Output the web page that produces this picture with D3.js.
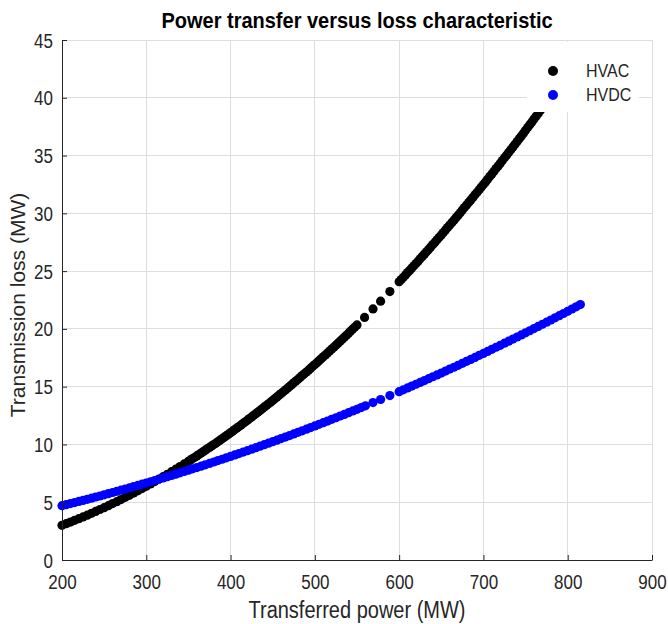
<!DOCTYPE html>
<html>
<head>
<meta charset="utf-8">
<script src="https://cdn.jsdelivr.net/npm/d3@7/dist/d3.min.js"></script>
<style>
  html, body { margin: 0; padding: 0; background: #ffffff; }
  svg { display: block; font-family: "Liberation Sans", Arial, Helvetica, sans-serif; }
</style>
</head>
<body>
<svg id="chart" width="668" height="624"></svg>
<script>
// ---------------- data ----------------
const seriesNames = ["HVAC", "HVDC"];

const powerHVAC = [200,205,210,215,220,225,230,235,240,245,250,255,260,265,270,275,280,285,290,295,
  300,305,310,315,320,325,330,335,340,345,
  350,352.5,355,357.5,360,362.5,365,367.5,370,372.5,375,377.5,380,382.5,385,387.5,390,392.5,395,397.5,
  400,402.5,405,407.5,410,412.5,415,417.5,420,422.5,425,427.5,430,432.5,435,437.5,440,442.5,445,447.5,
  450,452.5,455,457.5,460,462.5,465,467.5,470,472.5,475,477.5,480,482.5,485,487.5,490,492.5,495,497.5,
  500,502.5,505,507.5,510,512.5,515,517.5,520,522.5,525,527.5,530,532.5,535,537.5,540,542.5,545,547.5,
  550,559,569,578,589,
  600,602.5,605,607.5,610,612.5,615,617.5,620,622.5,625,627.5,630,632.5,635,637.5,640,642.5,645,647.5,
  650,652.5,655,657.5,660,662.5,665,667.5,670,672.5,675,677.5,680,682.5,685,687.5,690,692.5,695,697.5,
  700,702.5,705,707.5,710,712.5,715,717.5,720,722.5,725,727.5,730,732.5,735,737.5,740,742.5,745,747.5,
  750,752.5,755,757.5,760,762.5,765,767.5,770,772.5,775,780,785,790,795,
  800,805,810,815];
const lossHVAC = [3.00,3.14,3.28,3.43,3.58,3.73,3.88,4.04,4.20,4.37,4.53,4.70,4.88,5.05,5.23,5.42,5.60,5.79,5.99,6.18,
  6.38,6.58,6.79,7.00,7.21,7.42,7.64,7.86,8.09,8.31,
  8.54,8.66,8.78,8.89,9.01,9.13,9.25,9.37,9.50,9.62,9.74,9.86,9.99,10.11,10.24,10.37,10.50,10.63,10.76,10.89,
  11.02,11.15,11.29,11.42,11.55,11.69,11.83,11.96,12.10,12.24,12.38,12.52,12.66,12.80,12.94,13.08,13.23,13.37,13.52,13.66,
  13.81,13.96,14.11,14.26,14.41,14.56,14.71,14.86,15.02,15.17,15.33,15.48,15.64,15.80,15.96,16.11,16.27,16.43,16.60,16.76,
  16.92,17.08,17.25,17.41,17.58,17.74,17.91,18.08,18.25,18.42,18.59,18.76,18.94,19.11,19.28,19.45,19.63,19.81,19.99,20.16,
  20.34,20.99,21.73,22.40,23.23,
  24.08,24.27,24.47,24.67,24.87,25.06,25.26,25.46,25.66,25.86,26.07,26.27,26.47,26.67,26.88,27.09,27.30,27.50,27.71,27.92,
  28.13,28.34,28.56,28.77,28.98,29.19,29.41,29.62,29.84,30.06,30.28,30.50,30.72,30.94,31.16,31.38,31.60,31.82,32.05,32.27,
  32.50,32.72,32.95,33.18,33.41,33.64,33.87,34.10,34.34,34.57,34.80,35.03,35.27,35.51,35.75,35.98,36.22,36.46,36.70,36.94,
  37.18,37.42,37.67,37.91,38.16,38.40,38.65,38.89,39.14,39.39,39.64,40.14,40.65,41.16,41.67,
  42.18,42.70,43.22,43.74];

const powerHVDC = [200,205,210,215,220,225,230,235,240,245,250,255,260,265,270,275,280,285,290,295,
  300,305,310,315,320,325,330,335,340,345,350,355,360,365,370,375,380,385,390,395,
  400,405,410,415,420,425,430,435,440,445,450,455,460,465,470,475,480,485,490,495,
  500,505,510,515,520,525,530,535,540,545,550,555,560,569,578,589,
  600,605,610,615,620,625,630,635,640,645,650,655,660,665,670,675,680,685,690,695,
  700,705,710,715,720,725,730,735,740,745,750,755,760,765,770,775,780,785,790,795,
  800,805,810,815];
const lossHVDC = [4.70,4.79,4.88,4.97,5.07,5.16,5.25,5.35,5.45,5.54,5.64,5.74,5.84,5.94,6.04,6.14,6.24,6.35,6.45,6.56,
  6.66,6.77,6.88,6.99,7.10,7.21,7.32,7.43,7.54,7.66,7.77,7.89,8.00,8.12,8.24,8.36,8.48,8.60,8.72,8.84,
  8.96,9.09,9.21,9.34,9.46,9.59,9.72,9.85,9.98,10.11,10.24,10.37,10.51,10.64,10.77,10.91,11.05,11.18,11.32,11.46,
  11.60,11.74,11.88,12.02,12.17,12.31,12.46,12.60,12.75,12.90,13.04,13.19,13.34,13.62,13.89,14.23,
  14.57,14.73,14.89,15.05,15.21,15.37,15.53,15.69,15.86,16.02,16.18,16.35,16.52,16.68,16.85,17.02,17.19,17.36,17.53,17.71,
  17.88,18.05,18.23,18.41,18.58,18.76,18.94,19.12,19.30,19.48,19.66,19.84,20.03,20.21,20.40,20.58,20.77,20.96,21.14,21.33,
  21.52,21.72,21.91,22.10];

const xTicks = [200, 300, 400, 500, 600, 700, 800, 900];
const yTicks = [0, 5, 10, 15, 20, 25, 30, 35, 40, 45];

const titleText = "Power transfer versus loss characteristic";
const xLabelText = "Transferred power (MW)";
const yLabelText = "Transmission loss (MW)";

// ---------------- styles / layout ----------------
const colors = { HVAC: "#000000", HVDC: "#0000ff" };
const axisColor = "#262626";
const gridColor = "#dedede";
const plot = { left: 62, right: 652, top: 40, bottom: 560 };
const markerR = 4.6;
const stretch = 1.15;

const svg = d3.select("#chart");
svg.append("rect").attr("width", 668).attr("height", 624).attr("fill", "#ffffff");

const x = d3.scaleLinear().domain([200, 900]).range([plot.left, plot.right]);
const y = d3.scaleLinear().domain([0, 45]).range([plot.bottom, plot.top]);

// grid
const grid = svg.append("g");
grid.selectAll("line.gx").data(xTicks).join("line")
  .attr("x1", d => x(d)).attr("x2", d => x(d))
  .attr("y1", plot.top).attr("y2", plot.bottom)
  .attr("stroke", gridColor).attr("stroke-width", 1).attr("shape-rendering", "crispEdges");
grid.selectAll("line.gy").data(yTicks).join("line")
  .attr("x1", plot.left).attr("x2", plot.right)
  .attr("y1", d => y(d)).attr("y2", d => y(d))
  .attr("stroke", gridColor).attr("stroke-width", 1).attr("shape-rendering", "crispEdges");

// points
const series = [
  { name: "HVAC", p: powerHVAC, l: lossHVAC },
  { name: "HVDC", p: powerHVDC, l: lossHVDC }
];
series.forEach(s => {
  svg.append("g").selectAll("circle").data(d3.zip(s.p, s.l)).join("circle")
    .attr("cx", d => x(d[0])).attr("cy", d => y(d[1]))
    .attr("r", markerR).attr("fill", colors[s.name]);
});

// axes
const xAxis = d3.axisBottom(x).tickValues(xTicks).tickFormat(d3.format("d"))
  .tickSizeInner(-5).tickSizeOuter(0);
const gx = svg.append("g").attr("transform", `translate(0,${plot.bottom})`).call(xAxis);
gx.select(".domain").attr("stroke", axisColor);
gx.selectAll(".tick line").attr("stroke", axisColor);
gx.selectAll(".tick text")
  .attr("y", 0).attr("dy", 0)
  .attr("transform", `translate(0,29) scale(1,${stretch})`)
  .attr("fill", axisColor).attr("font-size", 17).attr("font-family", "Liberation Sans, Arial, sans-serif");

const yAxis = d3.axisLeft(y).tickValues(yTicks).tickFormat(d3.format("d"))
  .tickSizeInner(-5).tickSizeOuter(0);
const gy = svg.append("g").attr("transform", `translate(${plot.left},0)`).call(yAxis);
gy.select(".domain").attr("stroke", axisColor);
gy.selectAll(".tick line").attr("stroke", axisColor);
gy.selectAll(".tick text")
  .attr("x", 0).attr("dy", 0)
  .attr("transform", `translate(-9,7) scale(1,${stretch})`)
  .attr("fill", axisColor).attr("font-size", 17).attr("font-family", "Liberation Sans, Arial, sans-serif");

// titles
svg.append("text")
  .attr("transform", `translate(${(plot.left + plot.right) / 2},28) scale(1,1.1)`)
  .attr("text-anchor", "middle").attr("font-size", 20).attr("font-weight", "bold")
  .attr("fill", "#000000").text(titleText);

svg.append("text")
  .attr("transform", `translate(${(plot.left + plot.right) / 2},618) scale(1,${stretch})`)
  .attr("text-anchor", "middle").attr("font-size", 20)
  .attr("fill", axisColor).text(xLabelText);

svg.append("text")
  .attr("transform", `translate(25,305) rotate(-90)`)
  .attr("text-anchor", "middle").attr("font-size", 21)
  .attr("fill", axisColor).text(yLabelText);

// legend (white box hides the top of the HVAC curve, as in the reference)
const legend = svg.append("g");
legend.append("rect").attr("x", 527).attr("y", 42).attr("width", 112).attr("height", 70).attr("fill", "#ffffff");
seriesNames.forEach((name, i) => {
  const cy = 71 + i * 24;
  legend.append("circle").attr("cx", 553).attr("cy", cy).attr("r", 5).attr("fill", colors[name]);
  legend.append("text")
    .attr("transform", `translate(586,${cy + 6}) scale(1,${stretch})`)
    .attr("font-size", 16).attr("fill", axisColor).text(name);
});
</script>
</body>
</html>
